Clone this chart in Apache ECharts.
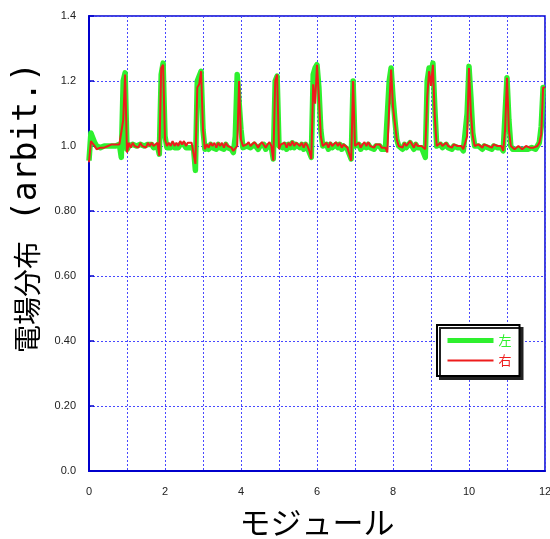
<!DOCTYPE html>
<html>
<head>
<meta charset="utf-8">
<script src="https://cdn.jsdelivr.net/npm/echarts@6/dist/echarts.min.js"></script>
<style>html,body{margin:0;padding:0;background:#fff}#c{width:550px;height:539px}</style>
</head>
<body>
<div id="c"></div>
<script>
// sampling step along the module axis (x = index * xStep)
const xStep = 0.05;
const xTicks = [0, 2, 4, 6, 8, 10, 12];
const yTickLabels = ['0.0', '0.20', '0.40', '0.60', '0.80', '1.0', '1.2', '1.4'];
const seriesNames = ['左', '右'];

// 左 (green)
const leftValues = [
  0.955, 1.04, 1.035, 1.01, 1.0, 0.995, 0.995, 0.995, 1.0, 0.995, 1.0, 1.0, 1.0, 1.005, 1.0, 1.0, 1.005, 0.965, 1.2, 1.225,
  0.99, 1.0, 0.995, 1.005, 1.0, 1.0, 0.995, 1.005, 1.0, 1.0, 0.995, 1.005, 1.0, 1.005, 0.995, 1.0, 1.0, 0.975, 1.22, 1.255,
  1.03, 0.995, 1.0, 0.995, 1.005, 0.995, 1.0, 0.995, 1.005, 1.0, 1.005, 0.995, 1.0, 0.995, 1.0, 0.995, 0.925, 1.2, 1.2, 1.23,
  1.05, 0.99, 1.0, 0.99, 1.005, 0.995, 1.0, 0.99, 1.005, 0.995, 1.0, 0.99, 1.005, 0.995, 1.0, 0.99, 0.98, 1.03, 1.22, 1.225,
  1.05, 0.995, 0.99, 1.0, 1.005, 0.995, 0.99, 1.005, 1.0, 0.99, 1.0, 1.005, 1.005, 0.99, 1.0, 1.005, 0.995, 0.96, 1.2, 1.215,
  1.0, 1.0, 0.995, 1.005, 0.99, 1.005, 0.995, 1.01, 0.995, 1.005, 1.01, 0.995, 1.005, 0.99, 1.005, 0.995, 0.98, 0.965, 1.22, 1.24,
  1.25, 1.18, 1.05, 1.0, 0.995, 1.005, 0.99, 1.005, 0.995, 0.99, 1.005, 0.995, 1.005, 0.99, 1.0, 0.995, 0.99, 0.985, 0.96, 1.2,
  1.0, 1.0, 1.005, 0.99, 1.0, 1.005, 0.995, 1.005, 0.995, 1.0, 0.99, 1.0, 0.995, 1.0, 0.99, 0.985, 0.99, 0.985, 1.2, 1.24,
  1.15, 1.08, 1.02, 1.0, 1.0, 0.99, 1.005, 0.995, 0.995, 1.01, 1.0, 0.99, 1.005, 0.995, 1.0, 0.995, 0.99, 0.965, 1.2, 1.24,
  1.22, 1.255, 1.12, 1.0, 0.995, 1.005, 0.995, 1.0, 1.005, 0.995, 1.0, 0.99, 1.0, 1.005, 0.995, 1.0, 0.995, 0.985, 0.985, 1.1,
  1.245, 1.15, 1.04, 1.0, 0.995, 1.0, 0.995, 0.99, 1.0, 1.005, 0.995, 1.0, 0.99, 1.0, 1.005, 0.995, 0.99, 0.995, 0.985, 1.1,
  1.21, 1.08, 1.0, 0.99, 0.99, 0.99, 0.995, 0.99, 0.99, 0.99, 0.995, 0.99, 0.99, 0.995, 0.99, 0.99, 0.995, 1.01, 1.06, 1.18,
  1.18
];

// 右 (red)
const rightValues = [
  0.95, 1.015, 1.02, 1.0, 0.99, 0.995, 0.995, 1.0, 0.995, 1.0, 1.0, 1.0, 1.005, 1.0, 1.005, 1.0, 1.005, 1.0, 1.08, 1.22,
  0.98, 1.01, 0.995, 1.01, 1.0, 1.005, 0.995, 1.01, 1.0, 1.005, 0.995, 1.01, 1.0, 1.01, 1.0, 1.005, 1.01, 0.97, 1.24, 1.25,
  1.02, 1.0, 1.01, 1.0, 1.015, 1.0, 1.01, 1.0, 1.015, 1.005, 1.015, 1.0, 1.01, 1.005, 1.01, 1.005, 0.945, 1.18, 1.19, 1.23,
  1.05, 0.99, 1.005, 0.995, 1.01, 1.0, 1.01, 0.995, 1.01, 1.0, 1.01, 0.995, 1.01, 1.0, 1.005, 0.995, 0.985, 0.99, 1.0, 1.2,
  1.02, 1.0, 0.995, 1.005, 1.012, 1.0, 0.995, 1.012, 1.005, 0.995, 1.005, 1.012, 1.01, 0.995, 1.005, 1.012, 1.0, 0.955, 1.2, 1.22,
  0.99, 1.005, 1.0, 1.01, 0.995, 1.01, 1.0, 1.015, 1.0, 1.01, 1.015, 1.0, 1.01, 0.995, 1.01, 1.0, 0.985, 0.96, 1.19, 1.13,
  1.25, 1.15, 1.03, 1.0, 1.0, 1.01, 0.995, 1.012, 1.0, 0.995, 1.012, 1.0, 1.01, 0.995, 1.005, 1.0, 0.995, 1.0, 0.955, 1.2,
  1.0, 1.005, 1.01, 0.995, 1.005, 1.012, 1.0, 1.012, 1.0, 1.005, 0.995, 1.005, 1.0, 1.005, 0.995, 0.99, 0.995, 0.98, 1.12, 1.235,
  1.12, 1.07, 1.02, 1.0, 1.005, 0.995, 1.01, 1.0, 1.0, 1.015, 1.005, 0.995, 1.01, 1.0, 1.005, 1.0, 1.0, 0.99, 1.15, 1.23,
  1.185, 1.25, 1.09, 1.0, 1.0, 1.01, 1.0, 1.005, 1.01, 1.0, 1.005, 0.995, 1.005, 1.01, 1.0, 1.005, 1.0, 0.99, 0.985, 1.03,
  1.24, 1.1, 1.03, 1.0, 1.0, 1.005, 1.0, 0.995, 1.005, 1.01, 1.0, 1.005, 0.995, 1.005, 1.01, 1.0, 0.995, 1.0, 0.985, 1.05,
  1.21, 1.05, 1.0, 0.995, 0.99, 0.995, 1.0, 0.995, 0.99, 0.995, 1.0, 0.995, 0.995, 1.0, 0.995, 0.995, 1.0, 1.01, 1.035, 1.18,
  1.18
];

const colors = ['#2ef02e', '#ee1c1c'];

function toPairs(vals) {
  return vals.map((v, i) => [+(i * xStep).toFixed(3), v]);
}

const chart = echarts.init(document.getElementById('c'), null, {renderer: 'canvas'});
const axisBlue = '#0000cc';
const gridBlue = '#4848ff';

chart.setOption({
  animation: false,
  backgroundColor: '#fff',
  grid: {
    left: 89, right: 5, top: 16, bottom: 68,
    outerBoundsMode: 'none',
    containLabel: false,
    show: true, borderColor: axisBlue, borderWidth: 1.5, backgroundColor: 'transparent'
  },
  legend: {
    orient: 'vertical',
    left: 437, top: 325,
    width: 82,
    padding: [9, 8, 9, 8],
    itemGap: 7,
    itemWidth: 46, itemHeight: 14,
    backgroundColor: '#fff',
    borderColor: '#000', borderWidth: 2,
    shadowColor: '#222', shadowBlur: 0, shadowOffsetX: 3, shadowOffsetY: 3,
    itemStyle: {opacity: 0, borderWidth: 0},
    data: [
      {name: seriesNames[0], textStyle: {color: colors[0]}, lineStyle: {width: 5, color: colors[0]}},
      {name: seriesNames[1], textStyle: {color: colors[1]}, lineStyle: {width: 2, color: colors[1]}}
    ],
    textStyle: {fontSize: 13, fontFamily: 'Noto Sans CJK JP'}
  },
  xAxis: {
    type: 'value',
    min: 0, max: 12, interval: 1,
    name: 'モジュール',
    nameLocation: 'middle',
    nameGap: 36,
    nameTextStyle: {fontSize: 31, color: '#000', fontFamily: 'Noto Sans CJK JP'},
    axisLine: {show: true, lineStyle: {color: axisBlue, width: 2}},
    axisTick: {show: false},
    axisLabel: {
      margin: 15, fontSize: 11, color: '#222', fontFamily: 'Liberation Sans',
      formatter: v => xTicks.indexOf(v) >= 0 ? String(v) : ''
    },
    splitLine: {show: true, lineStyle: {color: gridBlue, type: [2, 2], width: 1}}
  },
  yAxis: {
    type: 'value',
    min: 0, max: 1.4, interval: 0.2,
    name: '{c|電場分布}{m| (arbit.)}',
    nameLocation: 'middle',
    nameGap: 44,
    nameRotate: 90,
    nameTextStyle: {
      fontSize: 28, color: '#000',
      padding: [0, 0, 0, 72],
      rich: {
        c: {fontSize: 28, fontFamily: 'Noto Sans CJK JP', color: '#000'},
        m: {fontSize: 33, fontFamily: 'DejaVu Sans Mono', color: '#000'}
      }
    },
    axisLine: {show: true, lineStyle: {color: axisBlue, width: 2}},
    axisTick: {show: true, inside: true, length: 5, lineStyle: {color: axisBlue, width: 1.5}},
    axisLabel: {
      margin: 13, fontSize: 11, color: '#222', fontFamily: 'Liberation Sans',
      formatter: v => yTickLabels[Math.round(v / 0.2)]
    },
    splitLine: {show: true, lineStyle: {color: gridBlue, type: [2, 2], width: 1}}
  },
  series: [
    {
      name: seriesNames[0], type: 'line', data: toPairs(leftValues),
      symbol: 'none', color: colors[0],
      lineStyle: {width: 5.5, color: colors[0], join: 'round'}, z: 2
    },
    {
      name: seriesNames[1], type: 'line', data: toPairs(rightValues),
      symbol: 'none', color: colors[1],
      lineStyle: {width: 2, color: colors[1]}, z: 3
    }
  ]
});
</script>
</body>
</html>
